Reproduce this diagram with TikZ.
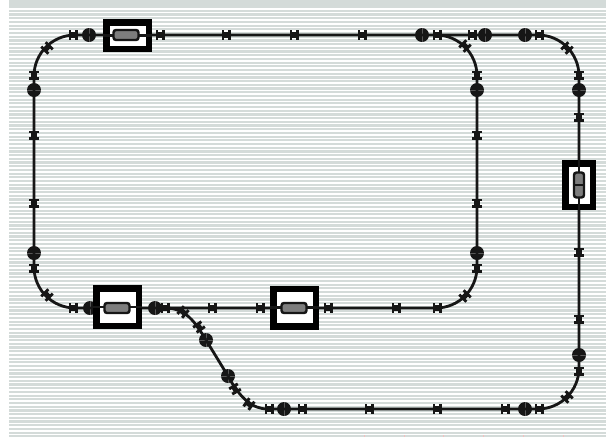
\documentclass[tikz,border=0pt]{standalone}
\usepackage{xcolor}
\usetikzlibrary{positioning}
\definecolor{mydark}{RGB}{22,22,22}
\definecolor{mystripe}{RGB}{212,219,217}
\definecolor{mybar}{RGB}{125,125,125}
\definecolor{mytick}{RGB}{245,190,190}
\tikzset{
  track/.style={line width=2.8pt, color=mydark},
  block/.style={rectangle, draw=black, fill=white, line width=6.5pt, inner sep=0pt},
  lamp/.style={rectangle, draw=mydark, fill=mybar, rounded corners=2.5pt,
    line width=2.4pt, inner sep=0pt},
  junc/.style={circle, fill=mydark, inner sep=0pt, minimum size=14pt,
    path picture={\draw[mybar!70!black, line width=0.4pt]
      (path picture bounding box.north) -- (path picture bounding box.south)
      (path picture bounding box.west) -- (path picture bounding box.east);}},
  tie/.pic={
    \fill[mydark] (-4.5,-5) rectangle (-1.6,5);
    \fill[mydark] (1.6,-5) rectangle (4.5,5);
    \fill[mydark] (-3,-2.6) rectangle (3,2.6);
  }
}
\begin{document}
\begin{tikzpicture}[x=1pt, y=-1pt]
  \useasboundingbox (0,0) rectangle (606,437);

  % Striped backdrop
  \fill[mystripe] (9,0) rectangle (606,437);
  \foreach \y in {9.0,12.7,...,437}
    \draw[white, line width=1.5pt] (9,\y) -- (606,\y);
  \foreach \x in {364,404,443,483,523,563}
    \draw[mytick, line width=0.8pt] (\x,435) -- (\x,437);

  % Corners of the track
  \coordinate (tl) at (34,35);
  \coordinate (tr) at (477,35);
  \coordinate (bl) at (34,308);
  \coordinate (br) at (477,308);
  \coordinate (otop) at (440,35);
  \coordinate (otr) at (579,35);
  \coordinate (obr) at (579,409);
  \coordinate (obot) at (268,409);
  \coordinate (swtch) at (165,308);

  % Junctions
  \foreach \x in {89,422,485,525}
    \node[junc] (jt\x) at (\x,35) {};
  \foreach \y in {90,253} {
    \node[junc] (jl\y) at (34,\y) {};
    \node[junc] (jr\y) at (477,\y) {};
  }
  \node[junc] (jo90) at (579,90) {};
  \node[junc] (jo355) at (579,355) {};
  \node[junc] (jb90) at (90,308) {};
  \node[junc] (jb155) at (155,308) {};
  \node[junc] (js1) at (206,340) {};
  \node[junc] (js2) at (228,376) {};
  \node[junc] (jo284) at (284,409) {};
  \node[junc] (jo525) at (525,409) {};

  % Track
  \draw[track, rounded corners=41pt] (tl) -- (tr) -- (br) -- (bl) -- cycle;
  \draw[track, rounded corners=41pt] (otop) -- (otr) -- (obr) -- (obot);
  \draw[track] (swtch) .. controls (186,308) and (195,322) .. (js1.center);
  \draw[track] (js1.center) -- (js2.center);
  \draw[track] (js2.center) .. controls (240,398) and (252,409) .. (obot);

  % Ties along the straights
  \foreach \x in {73,160,226,294,362,437,472,539}
    \pic at (\x,35) {tie};
  \foreach \x in {73,165,212,260,328,396,437}
    \pic at (\x,308) {tie};
  \foreach \x in {269,302,369,437,505,539}
    \pic at (\x,409) {tie};
  \foreach \y in {75,135,203,268} {
    \pic[rotate=90] at (34,\y) {tie};
    \pic[rotate=90] at (477,\y) {tie};
  }
  \foreach \y in {75,117,252,319,371}
    \pic[rotate=90] at (579,\y) {tie};

  % Ties in the curves
  \pic[rotate=45] at (47,48) {tie};
  \pic[rotate=-45] at (47,295) {tie};
  \pic[rotate=-45] at (465,46) {tie};
  \pic[rotate=45] at (465,296) {tie};
  \pic[rotate=-45] at (567,48) {tie};
  \pic[rotate=45] at (567,397) {tie};
  \pic[rotate=-40] at (183,312) {tie};
  \pic[rotate=-55] at (199,327) {tie};
  \pic[rotate=-60] at (235,389) {tie};
  \pic[rotate=-35] at (249,404) {tie};

  % Blocks on the track
  \node[block, minimum width=42.5pt, minimum height=26.5pt] (blocktop) at (127.5,35.5) {};
  \draw[track] (blocktop.west) -- (blocktop.east);
  \node[lamp, minimum width=25pt, minimum height=10pt] (lamptop) at (126,35) {};

  \node[block, minimum width=42.5pt, minimum height=37.5pt] (blockleft) at (117.5,307) {};
  \draw[track] (blockleft.west) -- (blockleft.east);
  \node[lamp, minimum width=25pt, minimum height=10pt] (lampleft) at (117,308) {};

  \node[block, minimum width=42.5pt, minimum height=37.5pt] (blockmid) at (294.5,307.5) {};
  \draw[track] (blockmid.west) -- (blockmid.east);
  \node[lamp, minimum width=25pt, minimum height=10pt] (lampmid) at (294,308) {};

  \node[block, minimum width=27.5pt, minimum height=43.5pt] (blockright) at (579,185) {};
  \draw[track] (blockright.north) -- (blockright.south);
  \node[lamp, minimum width=10pt, minimum height=25pt] (lampright) at (579,185) {};
  \draw[mydark, line width=1.8pt] (lampright.west) -- (lampright.east);
\end{tikzpicture}
\end{document}
